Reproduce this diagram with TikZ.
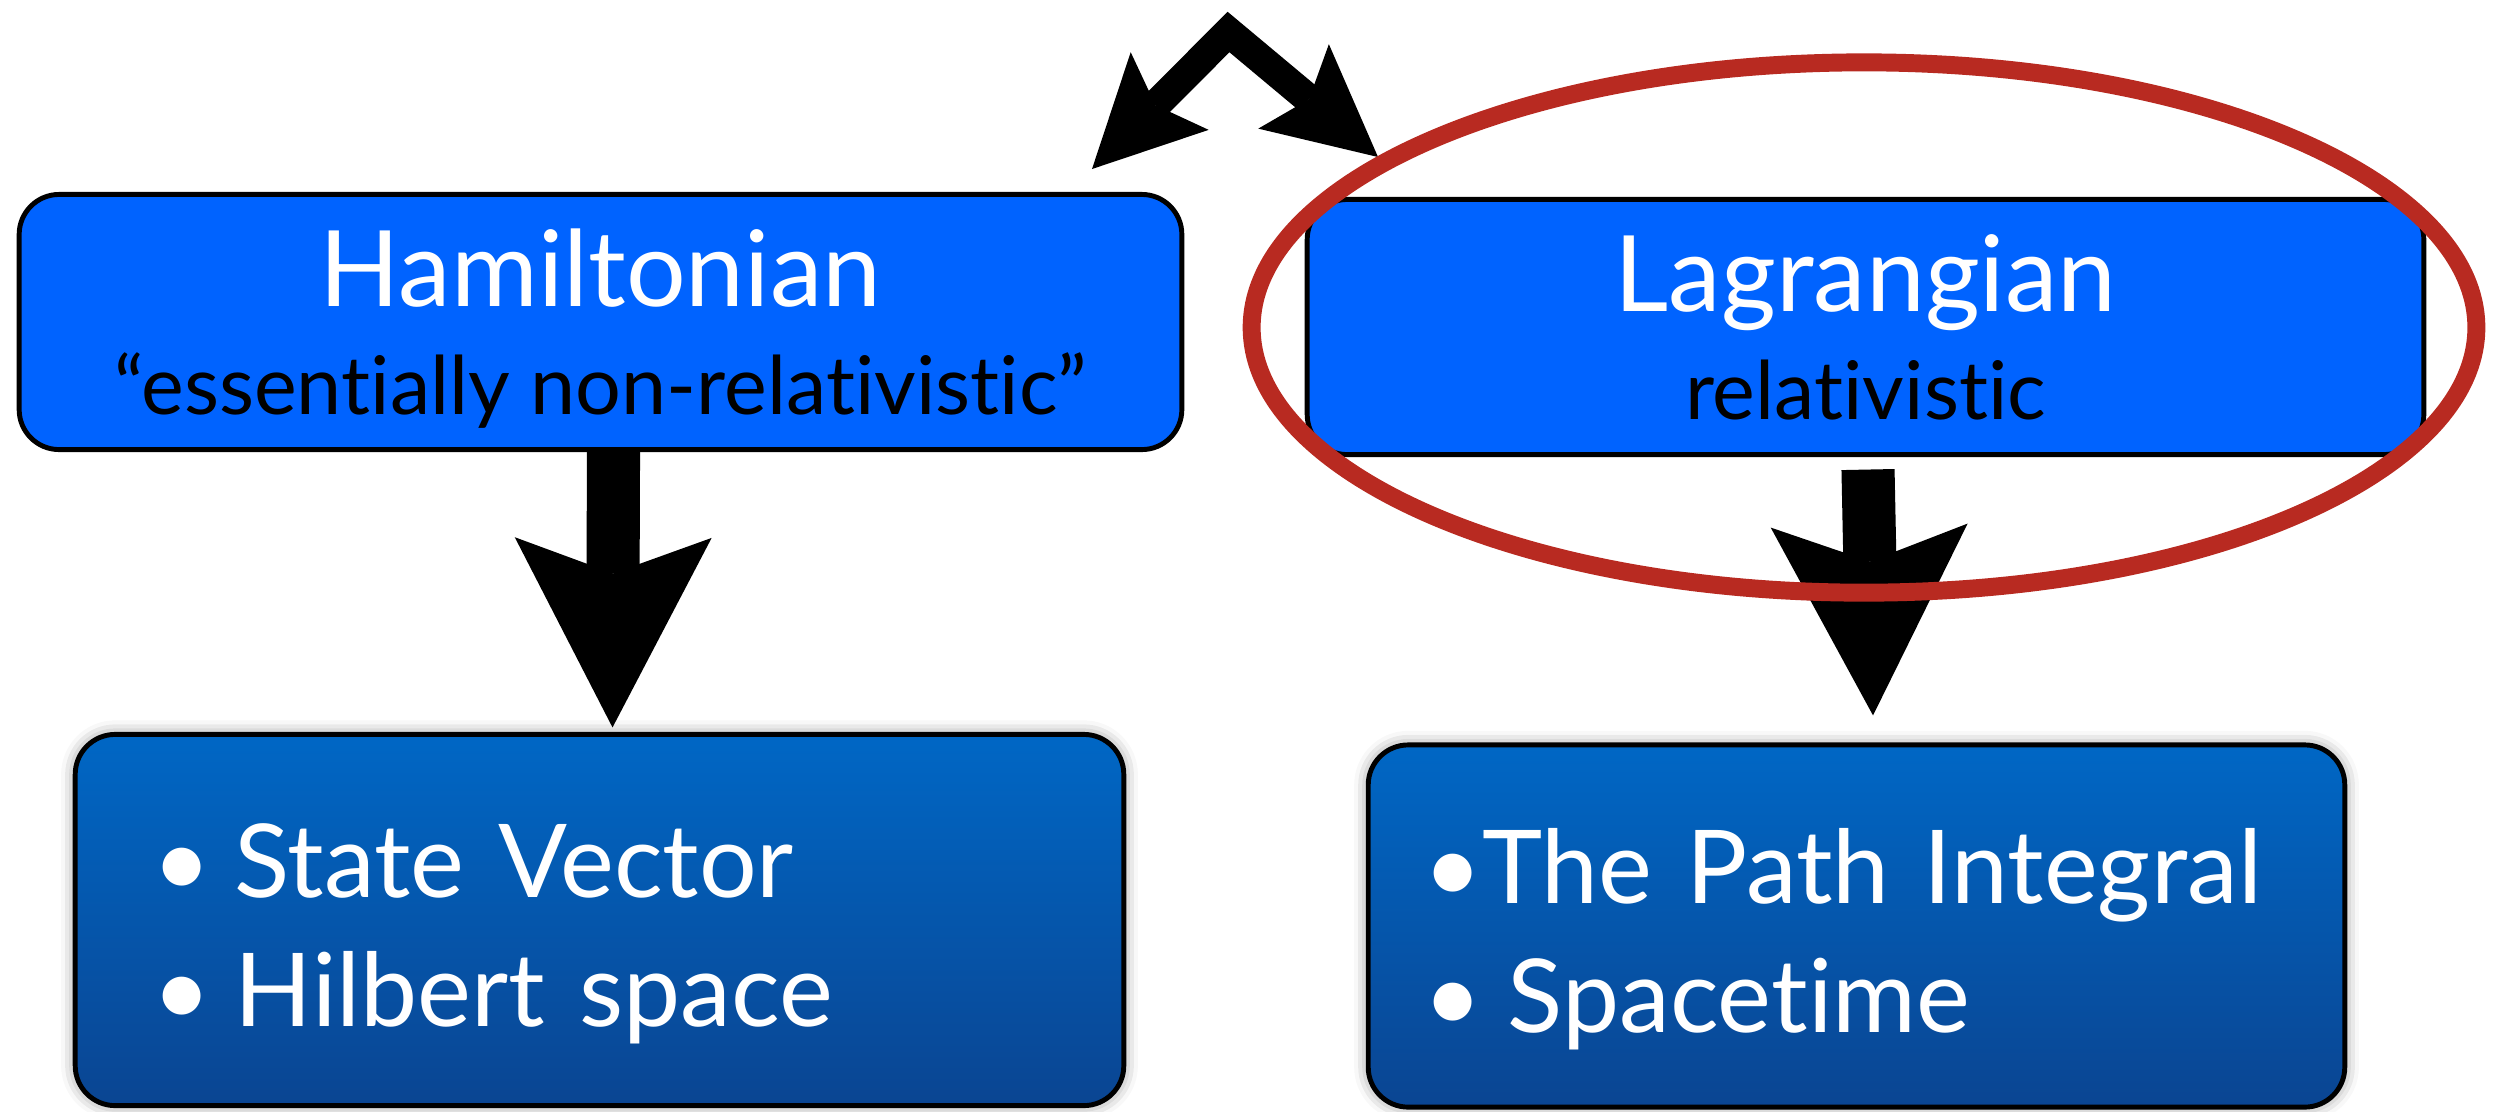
\documentclass[tikz,border=0pt]{standalone}
\usepackage{fontspec}
\setmainfont{Lato}[Ligatures=NoCommon]
\usetikzlibrary{arrows.meta,shadows.blur}

\definecolor{headblue}{HTML}{0063FF}
\definecolor{listtop}{HTML}{0067C5}
\definecolor{listbot}{HTML}{0A4592}
\definecolor{ringred}{HTML}{B82A21}

\newcommand{\titlesize}{\fontsize{30pt}{30.7pt}\selectfont}
\newcommand{\subsize}{\fontsize{23pt}{28pt}\selectfont\color{black}}
\newcommand{\listsize}{\fontsize{29pt}{36.7pt}\selectfont}

\tikzset{
    headbox/.style={draw=black, line width=1.4pt, rounded corners=0.4cm,
        fill=headblue, text=white, align=center, inner sep=0pt,
        text depth=0pt, font=\titlesize},
    listbox/.style={draw=black, line width=1.4pt, rounded corners=0.4cm,
        top color=listtop, bottom color=listbot, text=white, align=left,
        inner ysep=0pt, text depth=34pt, font=\listsize,
        blur shadow={shadow xshift=0pt, shadow yshift=0pt,
            shadow blur radius=4pt, shadow opacity=45}},
    fatarrow/.style={line width=15.1pt,
        -{Stealth[length=54pt, width=56pt, inset=10.2pt, line width=0pt]}},
    swaparrow/.style={line width=8.5pt, line join=miter,
        {Stealth[length=31.3pt, width=31.3pt, inset=5.7pt, line width=0pt]}-%
        {Stealth[length=31.3pt, width=31.3pt, inset=5.7pt, line width=0pt]}},
    ring/.style={draw=ringred, line width=5.1pt}
}

\begin{document}
\begin{tikzpicture}[x=0.01cm, y=-0.01cm]
    \useasboundingbox (0,0) rectangle (2509,1111);

    % Formulations
    \node (ham) [headbox, minimum width=11.62cm, minimum height=2.55cm]
        at (600.5,322) {Hamiltonian\\{\subsize “essentially non-relativistic”}};
    \node (lag) [headbox, minimum width=11.16cm, minimum height=2.55cm]
        at (1865.5,327) {Lagrangian\\{\subsize relativistic}};

    % What each one leads to
    \node (state) [listbox, text width=8.94cm, inner xsep=0.77cm,
        minimum height=3.71cm] at (599.5,920)
        {\mbox{\textbullet\hspace{0.23em}State Vector}\\
         \mbox{\textbullet\hspace{0.23em}Hilbert space}};
    \node (path) [listbox, text width=8.66cm, inner xsep=0.55cm,
        minimum height=3.62cm] at (1856.5,926)
        {\mbox{\textbullet The Path Integral}\\
         \mbox{\textbullet\hspace{0.25em}Spacetime}};

    % Down arrows
    \draw [fatarrow] ([xshift=0.13cm]ham.south)
        -- ([xshift=0.13cm,yshift=0.045cm]state.north);
    \draw [fatarrow] ([xshift=0.025cm,yshift=-0.125cm]lag.south)
        -- ([xshift=0.165cm,yshift=0.27cm]path.north);

    % Switch between the two
    \coordinate (hamtip) at (1092,169);
    \coordinate (turn) at (1228.5,32);
    \coordinate (lagtip) at (1378,157);
    \draw [swaparrow] (hamtip) -- (turn) -- (lagtip);

    % Ring round the Lagrangian
    \draw [ring] (1864,327.5) ellipse [x radius=6.12cm, y radius=2.65cm];
\end{tikzpicture}
\end{document}
